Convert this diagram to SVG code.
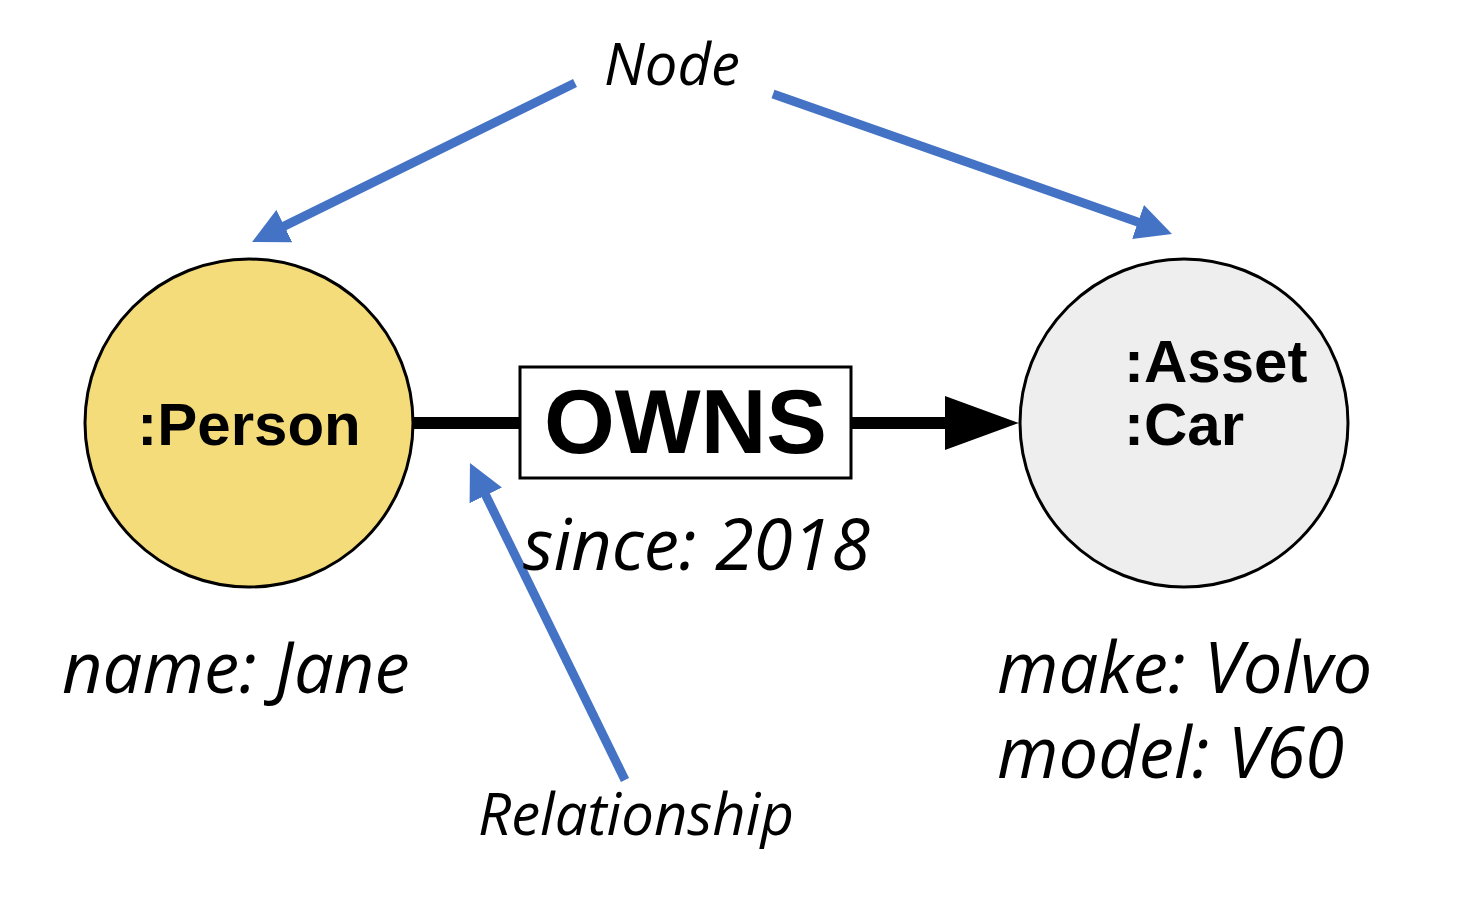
<svg xmlns="http://www.w3.org/2000/svg" width="1472" height="901" viewBox="0 0 1472 901">
<style>
.lbl{font-family:"Liberation Sans",Arial,sans-serif;font-weight:bold;fill:#000}
.it{font-family:"Open Sans","DejaVu Sans",sans-serif;font-style:italic;fill:#000}
.blue{stroke:#4472C4;stroke-width:9;fill:none}
</style>
<defs>
<marker id="bh" viewBox="0 0 36 36" refX="20" refY="18" markerUnits="userSpaceOnUse" markerWidth="36" markerHeight="36" orient="auto">
<path d="M0,0 L36,18 L0,36 z" fill="#4472C4"/>
</marker>
</defs>
<rect width="1472" height="901" fill="#fff"/>
<g id="connectors">
<line x1="413" y1="423" x2="520" y2="423" stroke="#000" stroke-width="12"/>
<line x1="851" y1="423" x2="950" y2="423" stroke="#000" stroke-width="12"/>
<polygon points="945,396 1019,423 945,450" fill="#000"/>
<line class="blue" x1="575" y1="83" x2="266.4" y2="234.9" marker-end="url(#bh)"/>
<line class="blue" x1="773" y1="94" x2="1156.9" y2="228.7" marker-end="url(#bh)"/>
<line class="blue" x1="625" y1="780" x2="477" y2="477.4" marker-end="url(#bh)"/>
</g>
<g id="person">
<circle cx="249" cy="423" r="164" fill="#F5DC7A" stroke="#000" stroke-width="3"/>
<text class="lbl" x="249" y="445" font-size="60" text-anchor="middle">:Person</text>
<text class="it" x="62" y="693" font-size="70.5">name: Jane</text>
</g>
<g id="car">
<circle cx="1184" cy="423" r="164" fill="#EEEEEE" stroke="#000" stroke-width="3"/>
<text class="lbl" x="1124" y="382" font-size="60">:Asset</text>
<text class="lbl" x="1124" y="445" font-size="60">:Car</text>
<text class="it" x="997" y="693" font-size="70.5">make: Volvo</text>
<text class="it" x="997" y="778" font-size="70.5">model: V60</text>
</g>
<g id="owns">
<rect x="520" y="367" width="331" height="111" fill="#fff" stroke="#000" stroke-width="3"/>
<text class="lbl" x="685.5" y="453" font-size="91" text-anchor="middle">OWNS</text>
<text class="it" x="523" y="570" font-size="70.5">since: 2018</text>
</g>
<g id="node-label">
<text class="it" x="604" y="85" font-size="58">Node</text>
</g>
<g id="relationship-label">
<text class="it" x="478" y="835" font-size="58">Relationship</text>
</g>
</svg>
